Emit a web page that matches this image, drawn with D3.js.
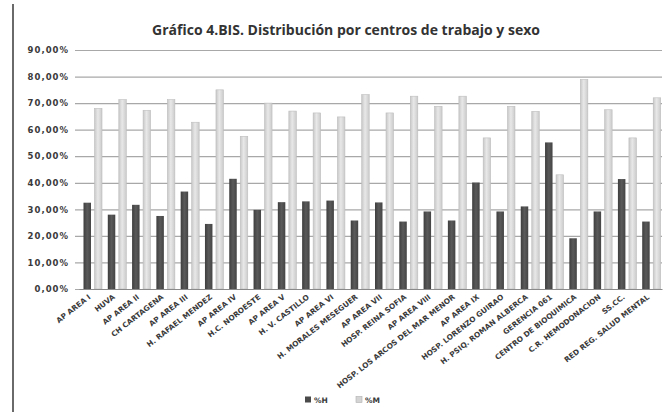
<!DOCTYPE html>
<html>
<head>
<meta charset="utf-8">
<script src="https://cdn.jsdelivr.net/npm/d3@7/dist/d3.min.js"></script>
<style>
  html, body { margin: 0; padding: 0; background: #fff; }
  svg { display: block; }
</style>
</head>
<body>
<svg id="chart" width="667" height="416"></svg>
<script>
// Centros de trabajo
const centros = [
  "AP AREA I", "HUVA", "AP AREA II", "CH CARTAGENA", "AP AREA III",
  "H. RAFAEL MENDEZ", "AP AREA IV", "H.C. NOROESTE", "AP AREA V",
  "H. V. CASTILLO", "AP AREA VI", "H. MORALES MESEGUER", "AP AREA VII",
  "HOSP. REINA SOFIA", "AP AREA VIII", "HOSP. LOS ARCOS DEL MAR MENOR",
  "AP AREA IX", "HOSP. LORENZO GUIRAO", "H. PSIQ. ROMAN ALBERCA",
  "GERENCIA 061", "CENTRO DE BIOQUIMICA", "C.R. HEMODONACION",
  "SS.CC.", "RED REG. SALUD MENTAL"
];

// Porcentaje de hombres (%H) y de mujeres (%M) por centro
const pctH = [32.5, 28.0, 31.7, 27.5, 36.7, 24.5, 41.5, 29.8, 32.7, 33.0, 33.3, 25.8,
              32.6, 25.4, 29.2, 25.8, 40.1, 29.2, 31.1, 55.2, 19.1, 29.2, 41.4, 25.4];
const pctM = [68.0, 71.3, 67.3, 71.3, 62.8, 75.0, 57.5, 70.0, 67.0, 66.3, 64.8, 73.2,
              66.3, 72.6, 68.8, 72.6, 56.9, 68.8, 66.9, 43.0, 78.9, 67.5, 56.9, 72.0];

const series = ["%H", "%M"];
const yTicks = [0, 10, 20, 30, 40, 50, 60, 70, 80, 90];
const titulo = "Gráfico 4.BIS. Distribución por centros de trabajo y sexo";

const rows = centros.map((c, i) => ({ centro: c, "%H": pctH[i], "%M": pctM[i] }));

const svg = d3.select("#chart");
const plotLeft = 79, plotRight = 662, plotTop = 50, plotBottom = 289;

const x0 = d3.scaleBand().domain(centros).range([plotLeft, plotRight]).padding(0);
const x1 = d3.scaleBand().domain(series).range([4.5, 23]).paddingInner(0.32);
const y = d3.scaleLinear().domain([0, 90]).range([plotBottom, plotTop]);

// Degradados de las barras
const defs = svg.append("defs");
const gM = defs.append("linearGradient").attr("id", "gradM");
gM.append("stop").attr("offset", "0%").attr("stop-color", "#c8c8c8");
gM.append("stop").attr("offset", "45%").attr("stop-color", "#e8e8e8");
gM.append("stop").attr("offset", "100%").attr("stop-color", "#cbcbcb");
const gH = defs.append("linearGradient").attr("id", "gradH");
gH.append("stop").attr("offset", "0%").attr("stop-color", "#3e3e3e");
gH.append("stop").attr("offset", "50%").attr("stop-color", "#5a5a5a");
gH.append("stop").attr("offset", "100%").attr("stop-color", "#444");
const fills = { "%H": "url(#gradH)", "%M": "url(#gradM)" };
const legendFills = { "%H": "#4a4a4a", "%M": "#d4d4d4" };

// Borde izquierdo del marco
svg.append("line")
  .attr("x1", 13).attr("x2", 13).attr("y1", 4).attr("y2", 412)
  .attr("stroke", "#6a6a6a").attr("stroke-width", 2);

// Título
svg.append("text")
  .attr("x", 346).attr("y", 35)
  .attr("text-anchor", "middle")
  .style("font-family", "'Open Sans', sans-serif")
  .style("font-weight", "bold")
  .style("font-size", "14px")
  .attr("fill", "#333")
  .text(titulo);

// Eje Y con líneas de cuadrícula
const fmt = v => d3.format(".2f")(v).replace(".", ",") + "%";
const yAxis = svg.append("g")
  .attr("transform", `translate(${plotLeft},0)`)
  .call(d3.axisLeft(y).tickValues(yTicks).tickSize(-(plotRight - plotLeft)).tickPadding(10).tickFormat(fmt));
yAxis.select(".domain").remove();
yAxis.selectAll(".tick line").attr("stroke", "#a8a8a8").attr("stroke-width", 1.2).attr("x1", -4);
yAxis.selectAll(".tick text")
  .style("font-family", "'DejaVu Sans', sans-serif")
  .style("font-weight", "bold")
  .style("font-size", "8.5px")
  .style("letter-spacing", "1px")
  .attr("fill", "#3a3a3a");

// Barras
const groups = svg.append("g").selectAll("g")
  .data(rows).join("g")
  .attr("transform", d => `translate(${x0(d.centro)},0)`);
groups.selectAll("rect")
  .data(d => series.map(k => ({ key: k, value: d[k] })))
  .join("rect")
  .attr("x", d => x1(d.key))
  .attr("width", x1.bandwidth())
  .attr("y", d => y(d.value))
  .attr("height", d => y(0) - y(d.value))
  .attr("fill", d => fills[d.key])
  .attr("stroke", d => d.key === "%M" ? "#bdbdbd" : "none")
  .attr("stroke-width", 0.6);

// Eje X
const xAxis = svg.append("g")
  .attr("transform", `translate(0,${plotBottom})`)
  .call(d3.axisBottom(x0).tickSize(0).tickPadding(0));
xAxis.select(".domain").attr("stroke", "#8a8a8a").attr("stroke-width", 1.2);
xAxis.selectAll(".tick text")
  .attr("text-anchor", "end")
  .attr("dy", 0)
  .attr("transform", "translate(0,9) rotate(-38)")
  .style("font-family", "'DejaVu Sans', sans-serif")
  .style("font-weight", "bold")
  .style("font-size", "7.4px")
  .attr("fill", "#3a3a3a");

// Leyenda
const legend = svg.append("g").attr("transform", "translate(305,400)");
const items = legend.selectAll("g").data(series).join("g")
  .attr("transform", (d, i) => `translate(${i * 51},0)`);
items.append("rect")
  .attr("x", 0).attr("y", -3.5).attr("width", 6).attr("height", 6)
  .attr("fill", d => legendFills[d])
  .attr("stroke", d => d === "%M" ? "#b0b0b0" : "none").attr("stroke-width", 0.6);
items.append("text")
  .attr("x", 9).attr("y", 3)
  .style("font-family", "'DejaVu Sans', sans-serif")
  .style("font-weight", "bold")
  .style("font-size", "7.5px")
  .attr("fill", "#3a3a3a")
  .text(d => d);
</script>
</body>
</html>
